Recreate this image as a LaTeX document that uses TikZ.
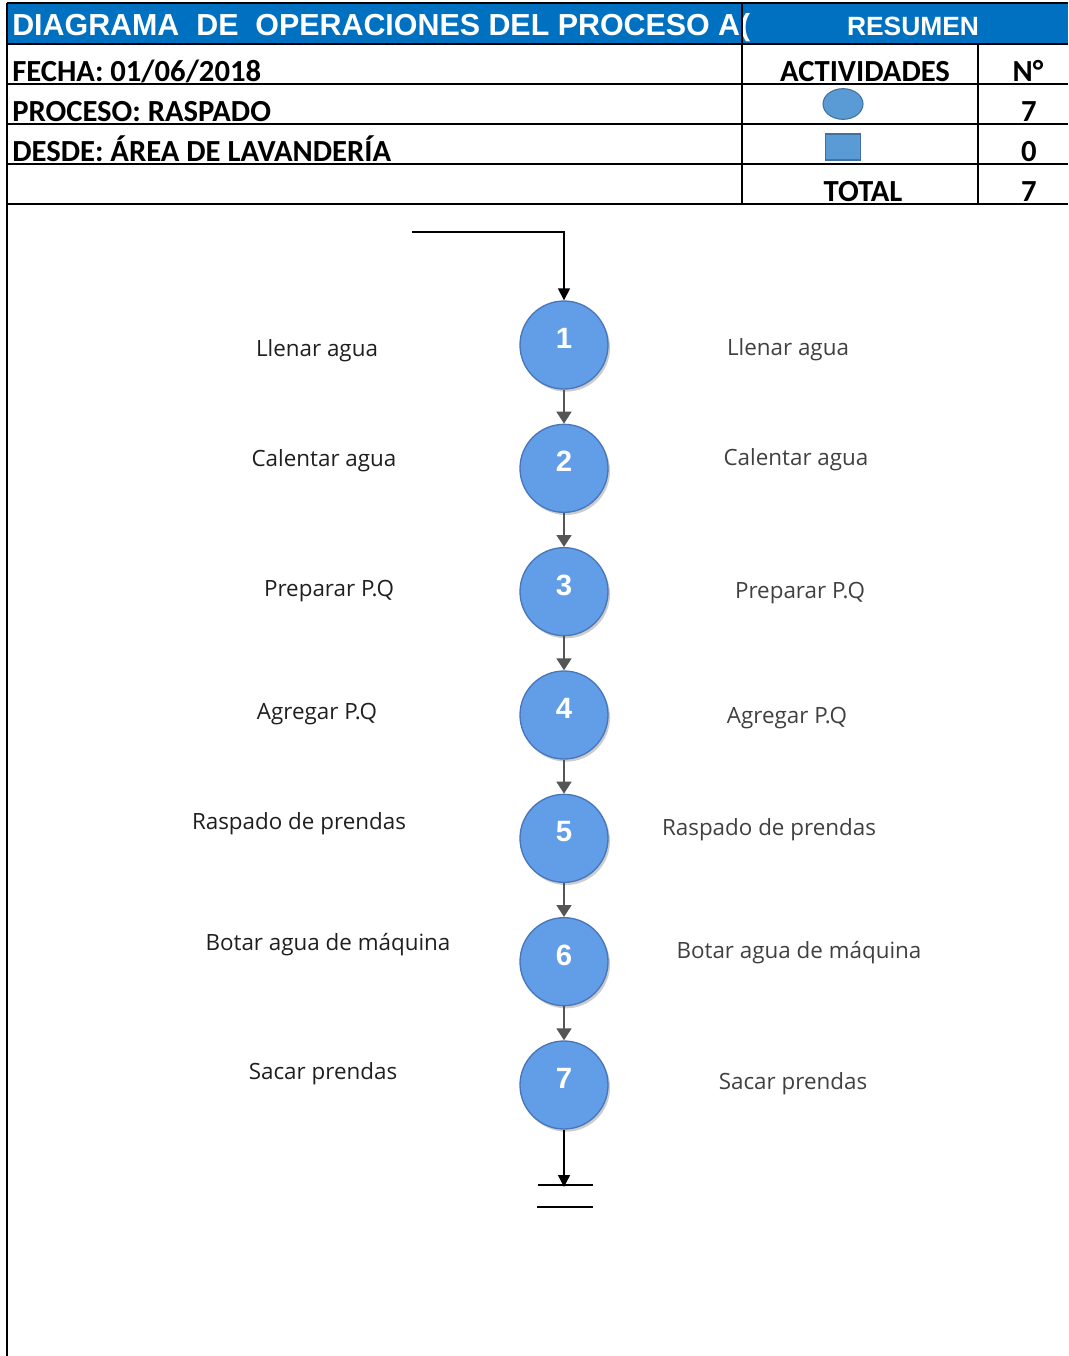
\documentclass[tikz,border=0pt]{standalone}
\usepackage{fontspec}
\setmainfont{Open Sans}
\newfontfamily\arialfont{Liberation Sans}
\newfontfamily\calibrifont{Carlito}
\usetikzlibrary{arrows.meta, positioning, shapes.geometric, shadows}
\definecolor{hdrblue}{RGB}{0,112,192}
\definecolor{opblue}{RGB}{98,158,232}
\definecolor{opborder}{RGB}{72,118,185}
\definecolor{symblue}{RGB}{91,155,213}
\definecolor{symborder}{RGB}{65,113,156}
\definecolor{arrowgray}{RGB}{85,85,85}

\begin{document}
\begin{tikzpicture}[
  x=0.75pt, y=-0.75pt,
  node distance=25.5pt,
  op/.style={circle, draw=opborder, line width=1pt, fill=opblue, minimum size=66pt,
             inner sep=0pt, text height=15pt, text depth=10pt, text=white,
             font=\arialfont\bfseries\fontsize{22}{22}\selectfont,
             drop shadow={shadow xshift=1.5pt, shadow yshift=-2pt, fill=black!40}},
  lefttxt/.style={font=\fontsize{16.8}{18}\selectfont, text=black!88},
  righttxt/.style={font=\fontsize{16.8}{18}\selectfont, text=black!75},
  hdrtxt/.style={font=\calibrifont\bfseries\fontsize{23}{23}\selectfont, inner sep=0pt},
  symb/.style={draw=symborder, fill=symblue, line width=0.8pt, inner sep=0pt},
  grid/.style={line width=1.4pt, black},
  grayarrow/.style={-{Triangle[width=11pt,length=9pt]}, line width=2pt, draw=arrowgray},
  blackarrow/.style={-{Triangle[width=9pt,length=9pt]}, line width=1pt, black},
]
  \useasboundingbox (0,0) rectangle (1068,1356);

  % header
  \fill[hdrblue] (7,3) rectangle (1068,44);
  \begin{scope}
    \clip (7,3) rectangle (751,44);
    \node[anchor=base west, inner sep=0pt, text=white,
          font=\arialfont\bfseries\fontsize{22.8}{23}\selectfont] (title) at (12,36)
          {DIAGRAMA~~DE~~OPERACIONES DEL PROCESO A(};
  \end{scope}
  \node[anchor=base, inner sep=0pt, text=white,
        font=\arialfont\bfseries\fontsize{19.8}{20}\selectfont] (resumen) at (913,36) {RESUMEN};

  \draw[grid] (7,3) -- (1068,3);
  \foreach \y in {44,84,124,164,204}
    \draw[grid] (7,\y) -- (1068,\y);
  \draw[grid] (7,3) -- (7,1356);
  \draw[grid] (742,3) -- (742,204);
  \draw[grid] (978,44) -- (978,204);

  \node[hdrtxt, anchor=base west] (fecha) at (12,81) {FECHA: 01/06/2018};
  \node[hdrtxt, anchor=base west] (proceso) at (12,121) {PROCESO: RASPADO};
  \node[hdrtxt, anchor=base west] (desde) at (12,161) {DESDE: ÁREA DE LAVANDERÍA};
  \node[hdrtxt, anchor=base] (activ) at (865,81) {ACTIVIDADES};
  \node[hdrtxt, anchor=base] (num) at (1028,81) {N°};
  \node[symb, ellipse, minimum width=30pt, minimum height=23pt] (symop) at (843,104) {};
  \node[symb, rectangle, minimum width=26pt, minimum height=19.5pt] (symin) at (843,147) {};
  \node[hdrtxt, anchor=base] (numop) at (1029,121) {7};
  \node[hdrtxt, anchor=base] (numin) at (1029,161) {0};
  \node[hdrtxt, anchor=base] (total) at (863,201) {TOTAL};
  \node[hdrtxt, anchor=base] (numtot) at (1029,201) {7};

  % operations
  \node[op] (o1) at (564,345) {1};
  \node[op, below=of o1] (o2) {2};
  \node[op, below=of o2] (o3) {3};
  \node[op, below=of o3] (o4) {4};
  \node[op, below=of o4] (o5) {5};
  \node[op, below=of o5] (o6) {6};
  \node[op, below=of o6] (o7) {7};

  \node[lefttxt] (l1) at (317,351) {Llenar agua};
  \node[lefttxt] (l2) at (324,461) {Calentar agua};
  \node[lefttxt] (l3) at (329,591) {Preparar P.Q};
  \node[lefttxt] (l4) at (317,714) {Agregar P.Q};
  \node[lefttxt] (l5) at (299,824) {Raspado de prendas};
  \node[lefttxt] (l6) at (328,945) {Botar agua de máquina};
  \node[lefttxt] (l7) at (323,1074) {Sacar prendas};

  \node[righttxt] (r1) at (788,350) {Llenar agua};
  \node[righttxt] (r2) at (796,460) {Calentar agua};
  \node[righttxt] (r3) at (800,593) {Preparar P.Q};
  \node[righttxt] (r4) at (787,718) {Agregar P.Q};
  \node[righttxt] (r5) at (769,830) {Raspado de prendas};
  \node[righttxt] (r6) at (799,953) {Botar agua de máquina};
  \node[righttxt] (r7) at (793,1084) {Sacar prendas};

  % connectors
  \coordinate (start) at (412,232);
  \coordinate (finish) at (564,1187);
  \draw[blackarrow] (start) -| (o1);
  \foreach \a/\b in {o1/o2, o2/o3, o3/o4, o4/o5, o5/o6, o6/o7}
    \draw[grayarrow] (\a) -- (\b);
  \draw[blackarrow] (o7) -- (finish);
  \draw[line width=1pt] (finish) ++(-26,-2) -- ++(55,0);
  \draw[line width=1pt] (finish) ++(-27,20) -- ++(56,0);
\end{tikzpicture}
\end{document}
